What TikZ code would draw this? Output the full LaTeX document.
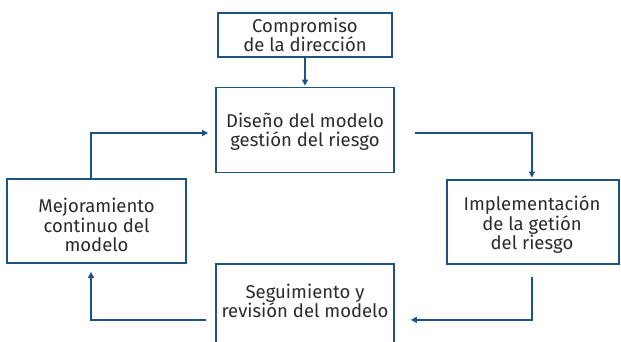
\documentclass[tikz,border=0pt]{standalone}
\usepackage{fontspec}
\setmainfont{Fira Sans}
\usetikzlibrary{arrows.meta}
\definecolor{dblue}{HTML}{1D5283}
\definecolor{tgray}{HTML}{2B2B2B}
\tikzset{
  box/.style={draw=dblue, line width=1.8pt, rectangle, inner sep=0pt},
  txt/.style={text=tgray, align=center, font=\fontsize{18.5}{19.5}\selectfont, inner sep=0pt},
  arr/.style={draw=dblue, line width=1.3pt, -{Triangle[length=6pt,width=6pt]}}
}
\begin{document}
\begin{tikzpicture}[x=1pt,y=-1pt]
\clip (0,0) rectangle (621,342);
\fill[white] (0,0) rectangle (621,342);
% boxes
\node[box, minimum width=174pt, minimum height=44pt] (top) at (305,35) {};
\node[txt] (topt) at (305,35) {Compromiso\\de la dirección};
\node[box, minimum width=178pt, minimum height=85pt] (design) at (305,130) {};
\node[txt] (designt) at (305,132) {Diseño del modelo\\gestión del riesgo};
\node[box, minimum width=179pt, minimum height=84pt] (mejor) at (96.5,221) {};
\node[txt] (mejort) at (96.5,225) {Mejoramiento\\continuo del\\modelo};
\node[box, minimum width=172pt, minimum height=84pt, anchor=north west] (impl) at (446,179) {};
\node[txt] (implt) at (532,225) {Implementación\\de la getión\\del riesgo};
\node[box, minimum width=178pt, minimum height=112pt, anchor=north] (seg) at (305,263) {};
\node[txt] (segt) at (305,301) {Seguimiento y\\revisión del modelo};
% connectors
\draw[arr, shorten >=1pt] (top.south) -- (design.north);
\draw[arr, shorten >=7pt] ([xshift=-5.5pt]mejor.north) |- ([yshift=-3pt]design.west);
\draw[arr, shorten <=20pt, shorten >=1.5pt] ([yshift=-3pt]design.east) -| ([xshift=-1pt]impl.north);
\draw[arr, shorten <=12pt, shorten >=16pt] ([xshift=-1pt]impl.south) |- (seg.east);
\draw[arr, shorten <=9pt, shorten >=8pt] (seg.west) -| ([xshift=-5.5pt]mejor.south);
\end{tikzpicture}
\end{document}
